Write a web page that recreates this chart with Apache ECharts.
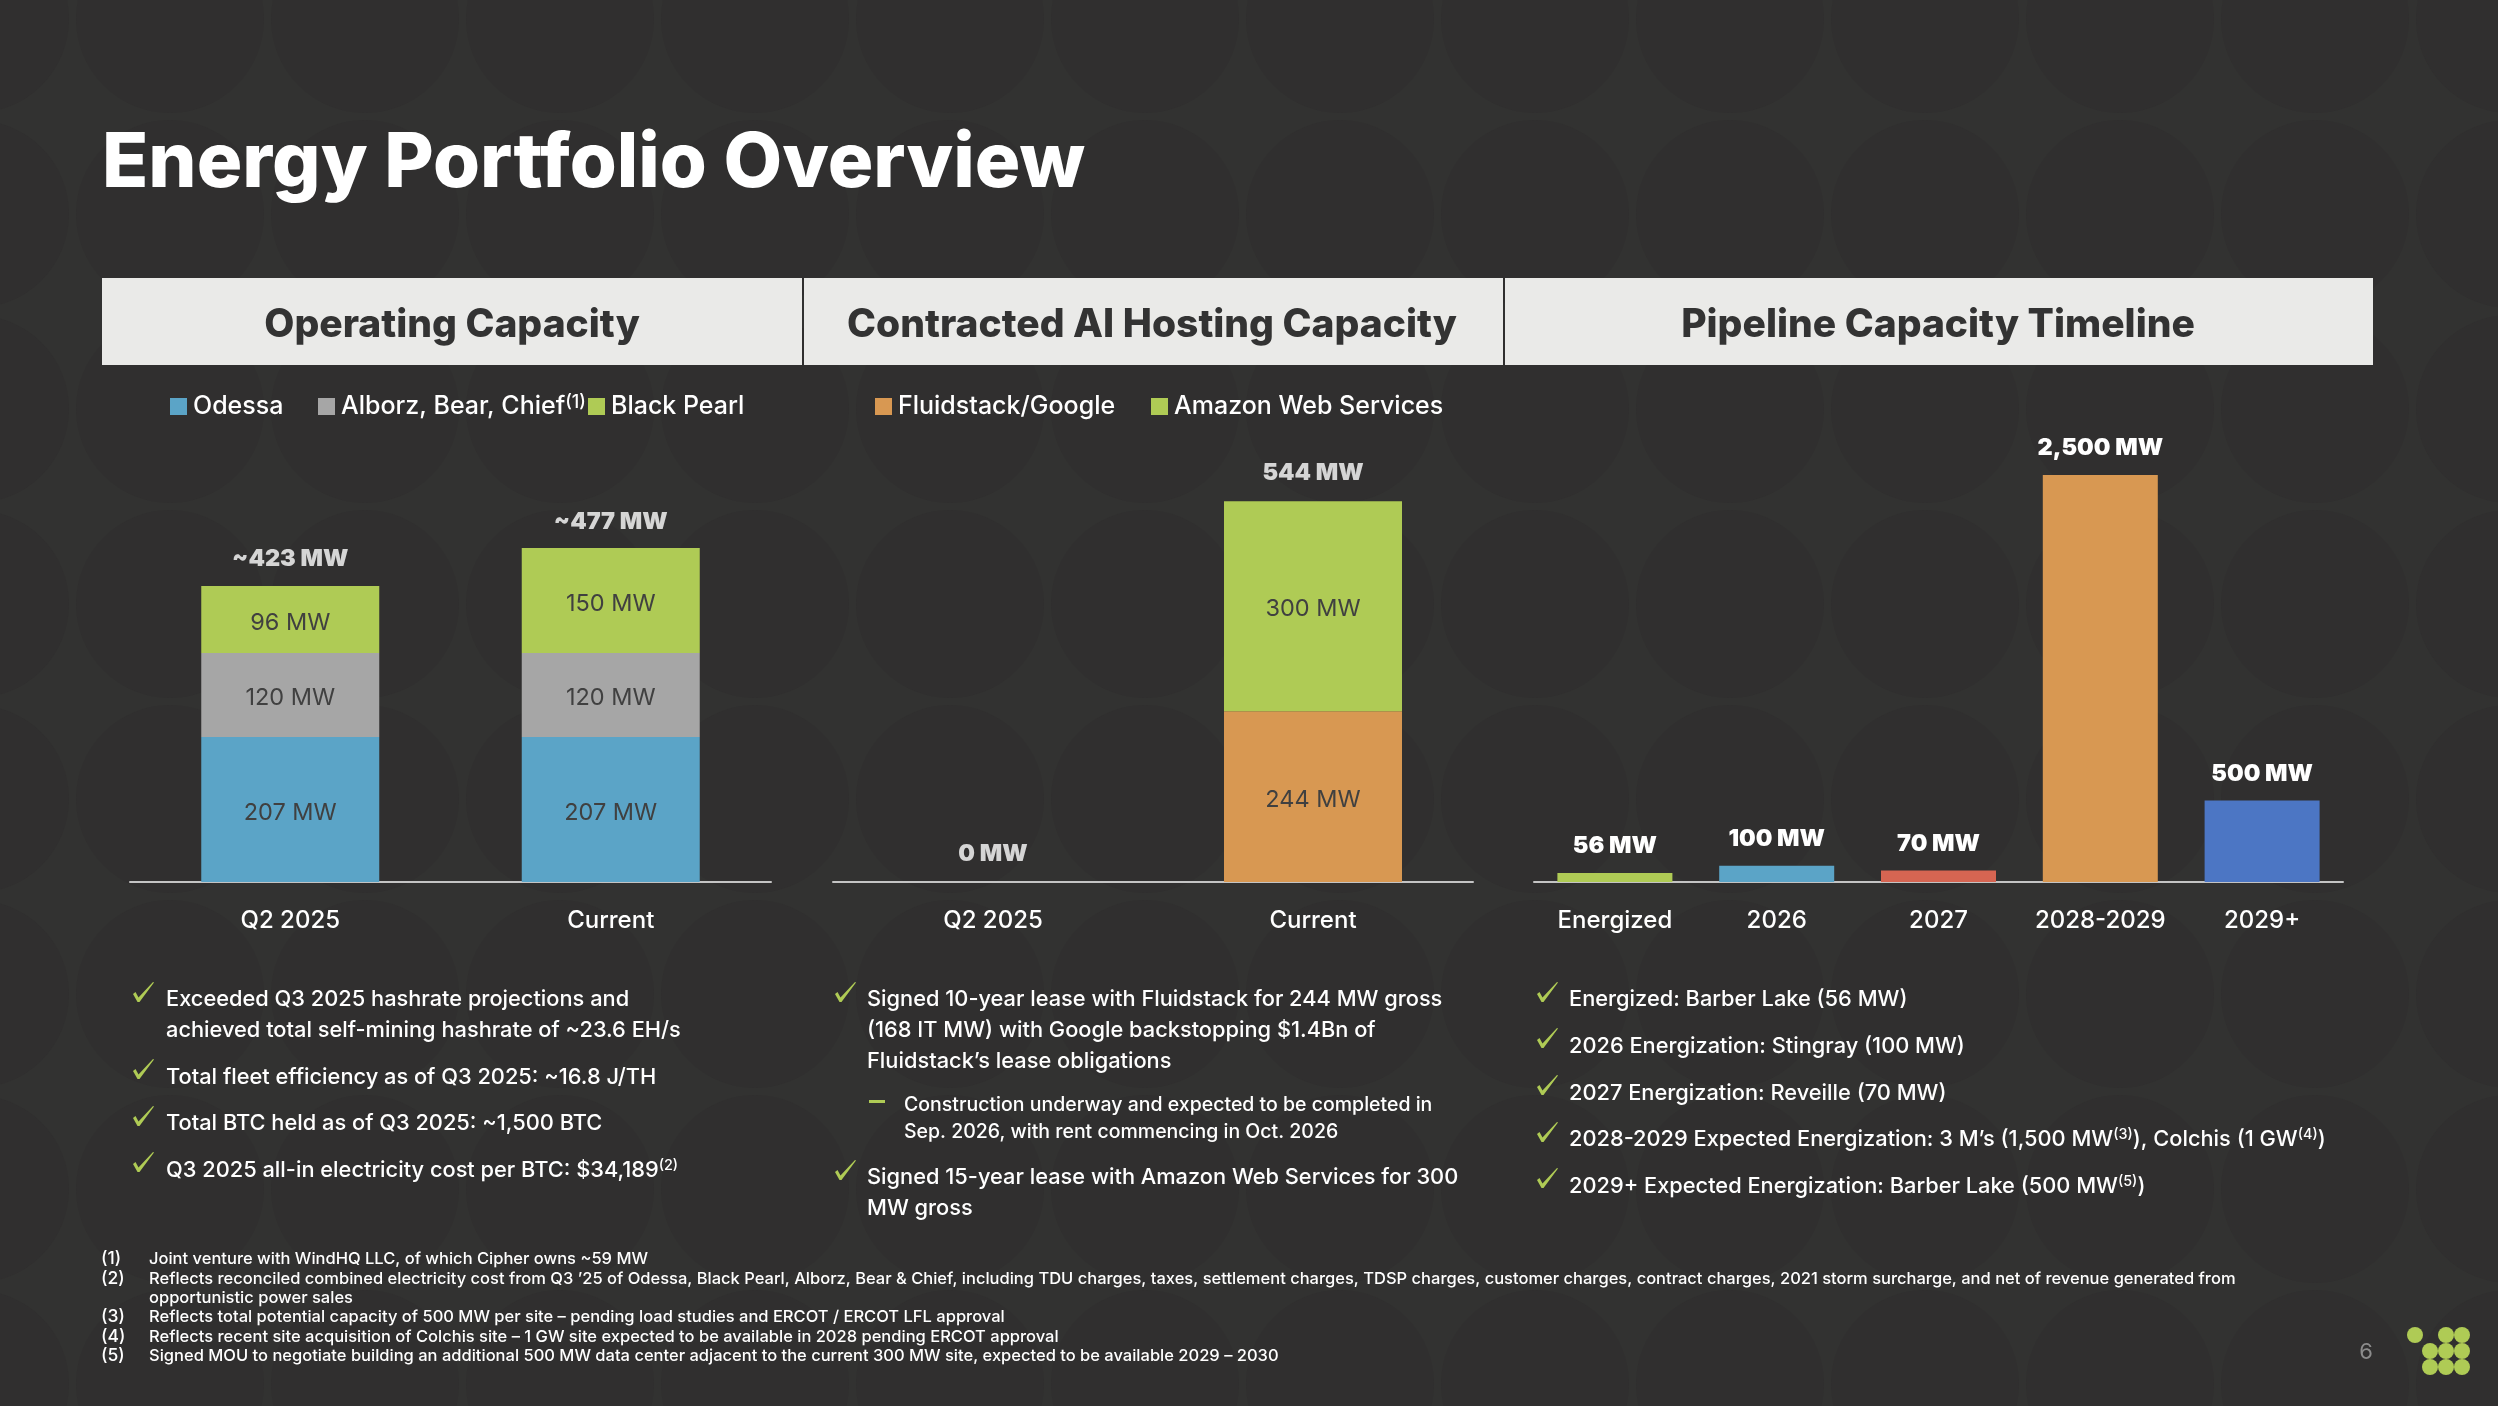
<!DOCTYPE html>
<html><head><meta charset="utf-8">
<style>html,body{margin:0;padding:0;background:#333332}#c{width:2498px;height:1406px}</style>
<script src="https://cdn.jsdelivr.net/npm/echarts@6/dist/echarts.min.js"></script>
</head><body><div id="c"></div>
<script>
const FONT = 'Inter';
// ---- data ----
const opCategories = ['Q2 2025', 'Current'];
const odessa = [207, 207];
const alborz = [120, 120];
const blackPearl = [96, 150];
const opTotals = [423, 477];
const aiCategories = ['Q2 2025', 'Current'];
const fluidstack = [null, 244];
const aws = [null, 300];
const aiTotals = [0, 544];
const pipeCategories = ['Energized', '2026', '2027', '2028-2029', '2029+'];
const pipeValues = [56, 100, 70, 2500, 500];
const pipeColors = ['#AFCB55', '#5BA4C7', '#D66552', '#D89852', '#4C76C4'];
const headers = ['Operating Capacity', 'Contracted AI Hosting Capacity', 'Pipeline Capacity Timeline'];
const bullets1 = [
  [999, 'Exceeded Q3 2025 hashrate projections and'],
  [1030, 'achieved total self-mining hashrate of ~23.6 EH/s'],
  [1077, 'Total fleet efficiency as of Q3 2025: ~16.8 J/TH'],
  [1123, 'Total BTC held as of Q3 2025: ~1,500 BTC'],
  [1170, 'Q3 2025 all-in electricity cost per BTC: $34,189', '(2)']
];
const bullets2 = [
  [999, 'Signed 10-year lease with Fluidstack for 244 MW gross'],
  [1030, '(168 IT MW) with Google backstopping $1.4Bn of'],
  [1061, 'Fluidstack’s lease obligations'],
  [1177, 'Signed 15-year lease with Amazon Web Services for 300'],
  [1208, 'MW gross']
];
const subBullets2 = [
  [1105, 'Construction underway and expected to be completed in'],
  [1132, 'Sep. 2026, with rent commencing in Oct. 2026']
];
const bullets3 = [
  [999, 'Energized: Barber Lake (56 MW)'],
  [1046, '2026 Energization: Stingray (100 MW)'],
  [1093, '2027 Energization: Reveille (70 MW)'],
  [1139, '2028-2029 Expected Energization: 3 M’s (1,500 MW', '(3)', '), Colchis (1 GW', '(4)', ')'],
  [1186, '2029+ Expected Energization: Barber Lake (500 MW', '(5)', ')']
];
const footNums = [[1259, '(1)'], [1279, '(2)'], [1317, '(3)'], [1337, '(4)'], [1356, '(5)']];
const footTexts = [
  [1259, 'Joint venture with WindHQ LLC, of which Cipher owns ~59 MW'],
  [1279, 'Reflects reconciled combined electricity cost from Q3 ’25 of Odessa, Black Pearl, Alborz, Bear & Chief, including TDU charges, taxes, settlement charges, TDSP charges, customer charges, contract charges, 2021 storm surcharge, and net of revenue generated from'],
  [1298, 'opportunistic power sales'],
  [1317, 'Reflects total potential capacity of 500 MW per site – pending load studies and ERCOT / ERCOT LFL approval'],
  [1337, 'Reflects recent site acquisition of Colchis site – 1 GW site expected to be available in 2028 pending ERCOT approval'],
  [1356, 'Signed MOU to negotiate building an additional 500 MW data center adjacent to the current 300 MW site, expected to be available 2029 – 2030']
];

// ---- colours & type ----
const GREEN = '#AFCB55', BLUE = '#5BA4C7', GRAY = '#A6A6A6', ORANGE = '#D89852';
const BG = '#323231', CIRCLE = '#302F2F', INK = '#404040';
const SZ = {title: 76, header: 39, legend: 25, cat: 24, total: 23.5, seg: 23.5, body: 21.8, sub: 19.5, foot: 16.5};

// ---- decoration & text (graphic layer) ----
const g = [];
for (let cy = 19; cy < 1500; cy += 195) for (let cx = -25; cx < 2600; cx += 195)
  g.push({type: 'circle', z: -10, silent: true, shape: {cx, cy, r: 94}, style: {fill: CIRCLE}});
function txt(x, y, text, size, color, weight, align) {
  g.push({type: 'text', x, y, silent: true, style: {text, fill: color || '#fff', fontFamily: FONT,
    fontSize: size, fontWeight: weight || 500, align: align || 'left', verticalAlign: 'middle'}});
}
function rtxt(x, y, parts, size) {
  const text = parts.map((p, i) => i % 2 ? '{s|' + p + '}' : '{a|' + p + '}').join('');
  g.push({type: 'text', x, y, silent: true, style: {text, fill: '#fff', fontFamily: FONT, align: 'left', verticalAlign: 'middle',
    rich: {a: {fontFamily: FONT, fontSize: size, fontWeight: 500, fill: '#fff'},
           s: {fontFamily: FONT, fontSize: size * 0.66, fontWeight: 500, fill: '#fff', verticalAlign: 'top'}}}});
}
function check(x, y) {
  g.push({type: 'polygon', silent: true, x, y, shape: {points: [[0, 12], [2.5, 10], [5.5, 15.5], [20, 0], [21, 0.6], [6.5, 20], [4.5, 20]]}, style: {fill: GREEN}});
}
txt(102, 164, 'Energy Portfolio Overview', SZ.title, '#fff', 800);
[[102, 700, 452], [804, 699, 1152], [1505, 868, 1938]].forEach((h, i) => {
  g.push({type: 'rect', silent: true, shape: {x: h[0], y: 278, width: h[1], height: 87}, style: {fill: '#EAEAE8'}});
  txt(h[2], 325, headers[i], SZ.header, '#333333', 800, 'center');
});
bullets1.forEach(b => rtxt(166, b[0], b.slice(1), SZ.body));
bullets2.forEach(b => rtxt(867, b[0], b.slice(1), SZ.body));
subBullets2.forEach(b => rtxt(904, b[0], b.slice(1), SZ.sub));
bullets3.forEach(b => rtxt(1569, b[0], b.slice(1), SZ.body));
[982, 1059, 1106, 1152].forEach(y => check(133, y));
[982, 1160].forEach(y => check(835, y));
[982, 1028, 1075, 1122, 1168].forEach(y => check(1537, y));
g.push({type: 'rect', silent: true, shape: {x: 869, y: 1100, width: 16, height: 3}, style: {fill: GREEN}});
footNums.forEach(f => txt(101, f[0], f[1], SZ.foot + 1, '#fff', 500));
footTexts.forEach(f => txt(149, f[0], f[1], SZ.foot, '#fff', 500));
txt(2366, 1352, '6', 22, '#8C8C8C', 400, 'center');
[[2415, 1335], [2446, 1335], [2462, 1335], [2430, 1351], [2446, 1351], [2462, 1351], [2430, 1367], [2446, 1367], [2462, 1367]]
  .forEach(p => g.push({type: 'circle', silent: true, shape: {cx: p[0], cy: p[1], r: 8}, style: {fill: GREEN}}));

// ---- chart ----
const AXIS_Y = 882;
const grids = [
  {left: 130, width: 641, top: AXIS_Y - 420, height: 420},
  {left: 833, width: 640, top: AXIS_Y - 420, height: 420},
  {left: 1534, width: 809, top: AXIS_Y - 407, height: 407}
];
const xAxes = [opCategories, aiCategories, pipeCategories].map((data, i) => ({
  type: 'category', gridIndex: i, data,
  axisLine: {lineStyle: {color: '#C4C4C4', width: 2}}, axisTick: {show: false},
  axisLabel: {color: '#fff', fontFamily: FONT, fontSize: SZ.cat, fontWeight: 500, margin: 27, interval: 0}
}));
const yAxes = [600, 600, 2500].map((max, i) => ({type: 'value', gridIndex: i, min: 0, max, show: false}));
const segLabel = {show: true, position: 'inside', offset: [0, 3], color: INK, fontFamily: FONT, fontSize: SZ.seg, fontWeight: 400, formatter: p => p.value + ' MW'};
const totalLabel = (fmt) => ({show: true, position: 'top', distance: 15, color: '#fff', fontFamily: FONT, fontSize: SZ.total, fontWeight: 900, formatter: fmt});
const stacked = (name, data, color, idx, stack) => ({
  name, type: 'bar', stack, data, xAxisIndex: idx, yAxisIndex: idx, barWidth: 178, itemStyle: {color}, label: segLabel
});
const totalPts = (data, idx, fmt, distance) => ({
  type: 'scatter', data, xAxisIndex: idx, yAxisIndex: idx, symbolSize: 1, itemStyle: {color: 'transparent'},
  label: Object.assign(totalLabel(fmt), {distance}), silent: true
});
const series = [
  stacked('Odessa', odessa, BLUE, 0, 'op'),
  stacked('Alborz, Bear, Chief', alborz, GRAY, 0, 'op'),
  stacked('Black Pearl', blackPearl, GREEN, 0, 'op'),
  totalPts(opTotals, 0, p => '~' + p.value + ' MW', 14),
  stacked('Fluidstack/Google', fluidstack, ORANGE, 1, 'ai'),
  stacked('Amazon Web Services', aws, GREEN, 1, 'ai'),
  totalPts(aiTotals, 1, p => p.value + ' MW', 16),
  {type: 'bar', data: pipeValues.map((value, i) => ({value, itemStyle: {color: pipeColors[i]}})), xAxisIndex: 2, yAxisIndex: 2, barWidth: 115,
   label: totalLabel(p => p.value.toLocaleString('en-US') + ' MW')}
];
const legendAt = (name, left) => ({
  data: [name], left, top: 394, itemWidth: 17, itemHeight: 17, itemGap: 0, icon: 'rect', padding: 0,
  selectedMode: false,
  formatter: n => n === 'Alborz, Bear, Chief' ? '{a|' + n + '}{s|(1)}' : n,
  textStyle: {color: '#fff', fontFamily: FONT, fontSize: SZ.legend, fontWeight: 500, padding: [0, 0, 0, 1],
    rich: {a: {color: '#fff', fontFamily: FONT, fontSize: SZ.legend, fontWeight: 500},
           s: {color: '#fff', fontFamily: FONT, fontSize: 18, verticalAlign: 'top'}}}
});
const legends = [['Odessa', 170], ['Alborz, Bear, Chief', 318], ['Black Pearl', 588], ['Fluidstack/Google', 875], ['Amazon Web Services', 1151]]
  .map(l => legendAt(l[0], l[1]));

const chart = echarts.init(document.getElementById('c'), null, {width: 2498, height: 1406, renderer: 'canvas', devicePixelRatio: 1});
chart.setOption({
  animation: false, backgroundColor: BG, grid: grids, xAxis: xAxes, yAxis: yAxes, series, legend: legends,
  graphic: {elements: g}
});
</script></body></html>
